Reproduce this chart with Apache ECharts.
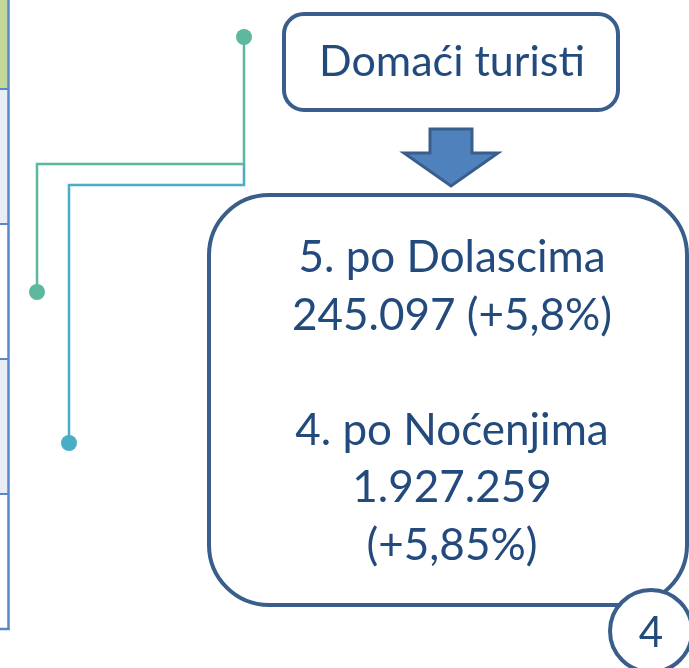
<!DOCTYPE html>
<html lang="hr">
<head>
    <meta charset="UTF-8"/>
    <script type="text/javascript" src="https://cdn.jsdelivr.net/npm/echarts@6/dist/echarts.min.js"></script>
    <title>Domaći turisti</title>
    <style>
        html, body { margin: 0; padding: 0; background: #fff; }
        #main { width: 689px; height: 668px; }
    </style>
</head>
<body>
<div id="main"></div>
<script type="text/javascript">
    // texts on the slide
    var title = 'Domaći turisti'
    var statLines = ['5. po Dolascima', '245.097 (+5,8%)', '', '4. po Noćenjima', '1.927.259', '(+5,85%)']
    var pageNo = '4'
    // left table strip: row fills top to bottom
    var rowFills = ['#c4d79b', '#e9edf5', '#ffffff', '#e9edf5', '#ffffff']

    var FONT = 'Lato, "Open Sans", sans-serif'
    var navy = '#3a5e8c'
    var textCol = '#234a7c'

    var myChart = echarts.init(document.getElementById('main'))

    var els = []

    // left strip of the table
    var rowTops = [0, 89, 224, 359, 494, 629]
    for (var i = 0; i < rowFills.length; i++) {
        els.push({type: 'rect', shape: {x: 0, y: rowTops[i], width: 8, height: rowTops[i + 1] - rowTops[i]},
            style: {fill: rowFills[i]}})
        if (i > 0) {
            els.push({type: 'line', shape: {x1: 0, y1: rowTops[i], x2: 9, y2: rowTops[i]},
                style: {stroke: '#5a87c6', lineWidth: 2}})
        }
    }
    els.push({type: 'line', shape: {x1: 0, y1: 629, x2: 9.5, y2: 629}, style: {stroke: '#5a87c6', lineWidth: 2.5}})
    els.push({type: 'line', shape: {x1: 8.5, y1: 0, x2: 8.5, y2: 630}, style: {stroke: '#5a87c6', lineWidth: 2.5}})

    // connectors
    els.push({type: 'polyline', shape: {points: [[244, 164], [244, 185], [69, 185], [69, 443]]},
        style: {stroke: '#4aadc6', lineWidth: 2.5, fill: null}})
    els.push({type: 'polyline', shape: {points: [[244, 37], [244, 164], [37, 164], [37, 292]]},
        style: {stroke: '#5db8a0', lineWidth: 2.5, fill: null}})
    els.push({type: 'circle', shape: {cx: 244, cy: 37, r: 8}, style: {fill: '#5db8a0'}})
    els.push({type: 'circle', shape: {cx: 37, cy: 292, r: 8}, style: {fill: '#5db8a0'}})
    els.push({type: 'circle', shape: {cx: 69, cy: 443, r: 8}, style: {fill: '#4aadc6'}})

    // title box
    els.push({type: 'rect', shape: {x: 284, y: 14, width: 334, height: 96, r: 20},
        style: {fill: '#fff', stroke: navy, lineWidth: 4}})
    els.push({type: 'text', style: {text: title, x: 452, y: 62, font: '43px ' + FONT,
        fill: textCol, align: 'center', verticalAlign: 'middle'}})

    // big box
    els.push({type: 'rect', shape: {x: 209, y: 195, width: 478, height: 410, r: 60},
        style: {fill: '#fff', stroke: navy, lineWidth: 4}})
    var lineY = 258
    statLines.forEach(function (t) {
        if (t) {
            els.push({type: 'text', style: {text: t, x: 452, y: lineY, font: '44px ' + FONT,
                fill: textCol, align: 'center', verticalAlign: 'middle'}})
        }
        lineY += 57.5
    })

    // arrow
    els.push({type: 'polygon', shape: {points: [[430, 129], [472, 129], [472, 153], [498, 153], [451, 186],
        [404, 153], [430, 153]]}, style: {fill: '#4f81bd', stroke: navy, lineWidth: 3, lineJoin: 'miter'}})

    // page number
    els.push({type: 'circle', shape: {cx: 651, cy: 631, r: 41}, style: {fill: '#fff', stroke: navy, lineWidth: 4}})
    els.push({type: 'text', style: {text: pageNo, x: 651, y: 633, font: '42px ' + FONT,
        fill: textCol, align: 'center', verticalAlign: 'middle'}})

    var option = {
        animation: false,
        backgroundColor: '#fff',
        graphic: {elements: els}
    }
    myChart.setOption(option)
</script>
</body>
</html>
